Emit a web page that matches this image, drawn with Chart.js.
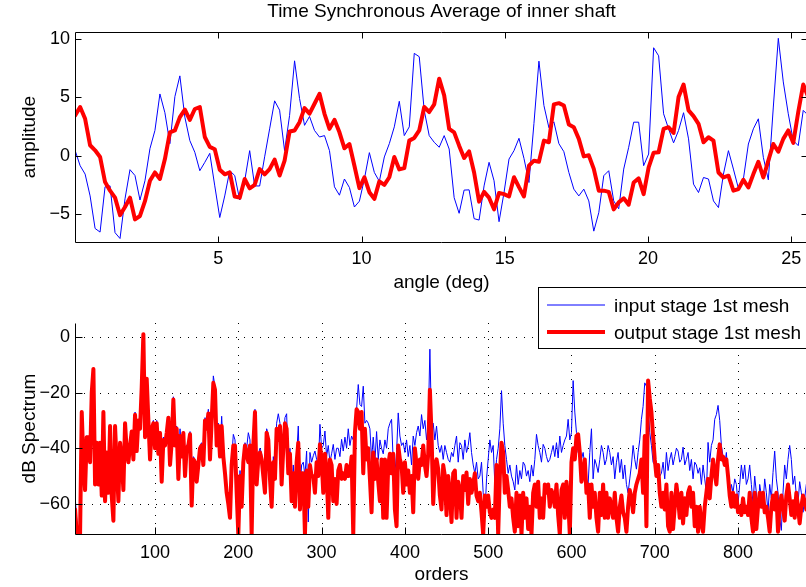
<!DOCTYPE html>
<html>
<head>
<meta charset="utf-8">
<title>Time Synchronous Average of inner shaft</title>
<script src="https://cdn.jsdelivr.net/npm/chart.js@4.4.1/dist/chart.umd.min.js"></script>
<style>
  html, body { margin: 0; padding: 0; background: #fff; overflow: hidden; }
  body { width: 806px; height: 587px; position: relative; }
  .panel { position: absolute; left: 0; }
  #tsaBox { top: 0; }
  #specBox { top: 280px; }
</style>
</head>
<body>
<div class="panel" id="tsaBox"><canvas id="tsaChart" width="830" height="300"></canvas></div>
<div class="panel" id="specBox"><canvas id="specChart" width="830" height="307"></canvas></div>
<script>
const FONT = '"Liberation Sans", Arial, Helvetica, sans-serif';
Chart.defaults.font.family = FONT;
Chart.defaults.font.size = 18;
Chart.defaults.color = '#000';

// time synchronous average, one sample every ANGLE_STEP degrees from 0
const ANGLE_STEP = 0.1741;
const tsaInput = [
  0.43, -0.86, -1.58, -3.45, -6.24, -6.55, -2.67, -2.59, -6.6, -7.1,
  -3.7, -1.2, -1.7, -3.8, -2.15, 0.6, 2.16, 5.29, 3.68, 1.03,
  5.06, 6.84, 3.3, 1.29, 0.29, -1.29, -0.57, 0.2, -2.59, -5.3,
  -3.45, -1.29, -1.7, -3.8, -2.15, 0.43, -2.59, -2.6, -0.1, 2.3,
  4.7, 3.9, 0.43, 3.45, 8.13, 4.9, 2.6, 3.36, 2.16, 1.6,
  1.72, 0.43, -2.67, -3.39, -2.0, -2.73, -4.4, -3.9, -2.0, 0.26,
  -1.44, -2.2, -0.11, 1.03, 2.47, 4.66, 1.72, 2.47, 8.77, 8.48,
  3.88, 1.72, 1.15, 0.72, 1.72, 0.57, -3.6, -4.94, -2.95, -2.93,
  -5.4, -5.52, -2.59, -0.57, -2.15, -5.66, -3.16, -0.29, 0.43, 1.49,
  -0.23, -2.3, 2.76, 8.1, 4.3, 2.4, 2.9, 1.03,
  0.34, -1.44, -2.87, -3.45, -2.87, -3.88, -6.47, -4.89, -1.72, -1.29,
  -3.88, -4.55, -1.15, 0.72, 2.87, 2.87, -0.86, 0.14, 9.25, 8.56,
  3.59, 2.3, 1.1, 2.16, 3.68, 1.44, -2.44, -3.16, -1.87, -2.0,
  -3.88, -4.45, -1.58, 0.43, -1.15, -2.8, -2.0, 1.0, 2.3, 3.16,
  -0.14, -2.07, 4.17, 10.06, 6.32, 3.59, 1.29, 0.86, 3.88, 3.45
];
const tsaOutput = [
  3.45, 4.17, 3.16, 0.89, 0.46, -0.11, -2.26, -3.0, -3.6, -5.1,
  -4.4, -3.6, -5.46, -5.17, -3.9, -2.15, -1.44, -2.0, -0.29, 2.0,
  2.16, 3.3, 3.94, 3.07, 4.0, 4.17, 1.6, 0.75, 0.55, -1.2,
  -1.6, -1.44, -3.5, -3.6, -2.0, -2.8, -2.5, -1.15, -1.6, -1.15,
  -0.34, -1.7, -0.43, 2.07, 2.16, 2.87, 4.08, 3.6, 4.45, 5.3,
  3.59, 2.3, 3.07, 2.0, 0.63, 1.0, -0.86, -2.78, -1.85, -3.13,
  -3.7, -2.2, -2.5, -1.85, -0.11, -1.18, -1.06, 1.29, 1.52, 2.16,
  4.17, 3.74, 4.4, 6.6, 5.17, 2.3, 2.0, 0.86, -0.2, 0.37,
  -1.44, -3.94, -3.1, -3.6, -4.6, -3.2, -3.3, -3.5, -1.85, -2.7,
  -3.5, -0.86, -0.43, -0.52, 1.29, 1.15, 4.4, 4.5,
  4.3, 2.67, 2.44, 1.44, -0.06, 0.03, -1.13, -3.0, -3.0, -3.1,
  -4.6, -4.0, -3.65, -4.2, -2.3, -1.95, -3.3, -1.0, 0.26, 0.29,
  2.3, 2.44, 1.95, 5.03, 6.1, 3.88, 3.39, 2.73, 1.15, 1.58,
  1.29, -1.44, -1.87, -1.72, -3.0, -2.87, -2.07, -2.73, -1.58, -0.52,
  -1.87, -0.43, 1.0, 0.34, 1.44, 2.16, 1.1, 3.74, 6.1, 5.03
];
const angleTicks = [5, 10, 15, 20, 25];
const amplitudeTicks = [-5, 0, 5, 10];

// order spectrum in dB, one value every ORDER_STEP orders starting at order 4
const ORDER_START = 4;
const ORDER_STEP = 2;
const specInput = [
  // orders 4 - 178
  -57, -66, -70, -68, -27.5, -44, -54, -35.5, -36.5, -44,
  -20, -12, -52, -38.5, -52, -37.5, -56, -27.5, -58, -41,
  -55, -32.5, -56, -64, -32.5, -45, -58, -38.5, -43, -54,
  -31.5, -40, -44, -39.5, -33.5, -43, -27, -40, -30.5, -32.5,
  -18.5, 0.5, -35, -15.5, -29.5, -43, -33, -30, -39, -30,
  -41, -34, -50, -36, -38, -34, -28.5, -45, -37, -21.5,
  -38, -32, -49, -33, -42, -34, -49, -39, -38, -34,
  -61, -43, -44, -51, -45, -39, -38, -45, -29, -32,
  -26, -43, -29, -14, -18, -38, -31, -42,
  // orders 180 - 352
  -28.5, -41, -47, -54, -58, -62, -44, -35, -37, -54,
  -66, -48, -58, -43, -38, -40, -34.4, -37, -66, -37,
  -26, -50, -42, -40, -42, -47, -53, -33, -35, -48,
  -58, -43, -48, -31, -27.6, -31, -50, -38, -29, -27.6,
  -46, -40, -55, -46, -57, -43, -32, -55, -46, -45,
  -50, -41, -66.5, -41.5, -45, -42.7, -41, -44, -47, -31.4,
  -40, -39, -33.8, -43, -39, -45, -42, -38.6, -44, -40,
  -40, -43, -36.8, -41, -36, -40, -33, -39, -35.6, -37,
  -33.8, -26, -17.1, -24.3, -25, -17.7, -31,
  // orders 354 - 530
  -30, -31, -33, -44, -36, -45, -34, -44, -37, -40,
  -42, -37, -40, -33, -31, -29.6, -45, -49, -41.5, -27.3,
  -35.6, -39, -38, -41.5, -37, -43, -39, -46, -35.6, -39,
  -34.4, -32, -35.6, -27.9, -33, -30, -37, -32, -4.4, -32,
  -31, -37, -32, -39, -41.5, -39, -44, -39, -41.5, -44,
  -45, -41.5, -43, -39, -35.6, -45, -38, -39, -44, -37,
  -41.5, -39, -34.4, -41.5, -46, -49, -45, -51, -50, -45,
  -56, -65, -51, -44, -37, -41.5, -39, -53, -44, -40,
  -33, -19.3, -31, -39, -44, -49, -46, -50, -52,
  // orders 532 - 706
  -55, -46, -53, -48, -51, -45, -46, -50, -48, -52,
  -46, -50, -44, -35, -39, -41.5, -45, -38.6, -40, -43,
  -45, -44, -41.5, -39, -43, -38, -43.5, -35.6, -41.5, -39,
  -37, -35.6, -29.6, -37, -34.4, -15.7, -27, -34.4, -41.5, -39,
  -44, -41.5, -46, -51, -53, -41.5, -33, -51, -44, -46,
  -48.7, -44, -39, -41.5, -46, -44, -39, -41.5, -46, -43,
  -51, -45, -41.5, -48.7, -44, -51, -46, -53, -56, -51,
  -46, -39, -44, -47.5, -41.5, -37, -29.6, -25, -16.5, -17.7,
  -25, -34.4, -39, -45, -46, -48.7, -47, -50,
  // orders 708 - 884
  -49, -45, -51, -41.5, -48, -44, -41.5, -46, -43, -40,
  -41, -45, -44, -39.6, -46, -44, -41.5, -48, -44, -51,
  -45, -46, -49, -47, -53, -46, -51, -56, -37.9, -45,
  -39, -37, -29.6, -27.9, -24.6, -30, -39, -43, -46, -41.5,
  -51, -58, -53, -56, -51, -53, -60, -53, -46, -51,
  -46, -53, -51, -46, -53, -60, -50, -56, -65, -53,
  -57, -60, -51, -56, -63, -53, -58, -48.7, -41, -51,
  -56, -65, -69.5, -56, -46, -51, -44, -39, -44, -53,
  -50, -57, -60, -52, -56, -63, -58, -53, -50
];
const specOutput = [
  // orders 4 - 178
  -62, -71, -71, -71, -27, -45, -55, -36, -36, -45,
  -20, -11.5, -53, -38, -53, -38, -57, -27, -59, -41.5,
  -56, -32, -57, -66, -32, -46, -59, -38, -44, -55,
  -31, -41, -45, -39, -34, -44, -28, -41, -30, -33,
  -18, 1, -36, -15, -30, -44, -33, -31, -40, -31,
  -42, -34.5, -52, -37, -39, -34.5, -29, -46, -38, -22.5,
  -39, -33, -51, -35.6, -43, -34.5, -50, -40, -39, -35,
  -60.6, -44, -45, -52, -46, -40, -39, -46, -30, -33,
  -27.5, -44, -30, -16.5, -19, -39, -32, -43,
  // orders 180 - 352
  -32, -43, -49, -56, -60, -65, -46, -39, -39, -56,
  -71, -50, -61, -45, -39, -42, -45, -39, -71, -39,
  -27, -53, -44, -41.5, -44, -50, -56, -34.4, -37, -51,
  -61, -45, -51, -33, -37, -32, -53, -40, -31, -33,
  -49, -42, -59, -49, -61, -45, -38, -62, -49, -49,
  -71, -48, -61, -46, -50, -50, -56, -45, -50, -38.6,
  -44, -56, -42, -48, -65, -44, -46, -59, -51, -60,
  -48, -46, -51, -49, -51, -46, -50, -49, -43, -71,
  -34.4, -26, -27, -33, -27, -49, -33,
  // orders 354 - 530
  -44, -40, -51, -63, -41.5, -51, -44, -52, -59, -44,
  -65, -44, -65, -46, -42, -49, -42, -62, -68, -39,
  -44, -46, -56, -45, -53, -48, -56, -50, -63, -40,
  -46, -51, -44, -46, -39, -46, -50, -42, -19, -35,
  -60, -46, -44, -47.5, -57, -62, -46, -50, -64, -50,
  -56, -66.5, -49, -48, -65, -52, -55, -65, -50, -55,
  -48.7, -60, -51, -56, -53, -49, -57, -59, -56, -63,
  -71, -57, -61, -57, -63, -65, -62, -65, -46, -71,
  -50, -38, -41.5, -56, -50, -55, -61, -58, -65,
  // orders 532 - 706
  -70, -56, -68, -57, -71, -56, -65, -58, -69, -61,
  -71, -56, -53, -61, -52, -65, -58, -65, -53, -56,
  -53, -61, -55, -57, -61, -53, -64, -71, -55, -53,
  -65, -52, -58, -71, -45, -40, -44, -35.6, -35, -41.5,
  -52, -49, -44, -56, -53, -65, -53, -61, -56, -65,
  -70, -56, -64, -53, -65, -56, -65, -58, -61, -65,
  -56, -65, -70, -61, -57, -63, -65, -70, -61, -55,
  -58, -63, -56, -53, -51, -49, -44, -56, -35.6, -68,
  -15.7, -22, -27, -35.6, -44, -50, -46, -56,
  // orders 708 - 884
  -61, -56, -62, -53, -68, -70, -56, -69, -61, -53,
  -58, -65, -56, -67, -58, -64, -56, -54, -61, -56,
  -68, -61, -70, -61, -67, -70, -61, -56, -51, -58,
  -50, -44, -49, -53, -44, -38.6, -44, -43, -46, -44,
  -50, -57, -61, -56, -61, -57, -63, -61, -64, -58,
  -63, -61, -64, -56, -65, -70, -56, -69, -61, -56,
  -61, -56, -63, -61, -65, -70, -61, -57, -62, -56,
  -70, -61, -57, -61, -66, -57, -53, -58, -64, -59,
  -65, -56, -61, -67, -61, -57, -59, -62, -58
];
const orderTicks = [100, 200, 300, 400, 500, 600, 700, 800];
const dbTicks = [-60, -40, -20, 0];

const seriesNames = ['input stage 1st mesh', 'output stage 1st mesh'];
const BLUE = '#0000ff';
const RED = '#ff0000';

function toPoints(values, start, step) {
  return values.map((v, i) => ({ x: start + i * step, y: v }));
}

function fmtTick(v) {
  return v < 0 ? '\u2212' + Math.abs(v) : String(v);
}

function fixedTicks(list) {
  return scale => { scale.ticks = list.map(v => ({ value: v })); };
}

function drawRotated(ctx, text, x, y) {
  ctx.save();
  ctx.translate(x, y);
  ctx.rotate(-Math.PI / 2);
  ctx.textAlign = 'center';
  ctx.textBaseline = 'alphabetic';
  ctx.fillText(text, 0, 0);
  ctx.restore();
}

// matlab-like frame: dotted grid, axis lines, inward ticks, labels, legend
const axesFrame = {
  id: 'axesFrame',
  beforeDatasetsDraw(chart, args, o) {
    if (!o.grid) return;
    const { ctx, chartArea: a, scales: { x, y } } = chart;
    ctx.save();
    ctx.strokeStyle = '#000';
    ctx.lineWidth = 1;
    ctx.setLineDash([1, 7]);
    ctx.beginPath();
    for (const t of x.ticks) {
      const px = Math.round(x.getPixelForValue(t.value)) + 0.5;
      ctx.moveTo(px, a.top); ctx.lineTo(px, a.bottom);
    }
    for (const t of y.ticks) {
      const py = Math.round(y.getPixelForValue(t.value)) + 0.5;
      ctx.moveTo(a.left, py); ctx.lineTo(a.right, py);
    }
    ctx.stroke();
    ctx.restore();
  },
  afterDraw(chart, args, o) {
    const { ctx, chartArea: a, scales: { x, y } } = chart;
    const L = a.left - 0.5, B = a.bottom + 0.5, T = a.top + 0.5, R = a.right + 0.5;
    const tl = o.tickLength;
    ctx.save();
    ctx.strokeStyle = '#000';
    ctx.lineWidth = 1;
    ctx.beginPath();
    ctx.moveTo(L, T); ctx.lineTo(L, B); ctx.lineTo(R, B);
    if (o.box) { ctx.lineTo(R, T); ctx.lineTo(L, T); }
    for (const t of x.ticks) {
      const px = Math.round(x.getPixelForValue(t.value)) + 0.5;
      ctx.moveTo(px, B); ctx.lineTo(px, B - tl);
      if (o.box) { ctx.moveTo(px, T); ctx.lineTo(px, T + tl); }
    }
    for (const t of y.ticks) {
      const py = Math.round(y.getPixelForValue(t.value)) + 0.5;
      ctx.moveTo(L, py); ctx.lineTo(L + tl, py);
      if (o.box) { ctx.moveTo(R, py); ctx.lineTo(R - tl, py); }
    }
    ctx.stroke();

    const midX = (a.left + a.right) / 2;
    const midY = (a.top + a.bottom) / 2;
    ctx.fillStyle = '#000';
    ctx.font = '19px ' + FONT;
    ctx.textAlign = 'center';
    ctx.textBaseline = 'alphabetic';
    if (o.title) ctx.fillText(o.title, midX, o.titleBaseline);
    ctx.fillText(o.xLabel, midX, o.xLabelBaseline);
    drawRotated(ctx, o.yLabel, o.yLabelBaseline, midY);

    if (o.legend) {
      const lg = o.legend;
      ctx.fillStyle = '#fff';
      ctx.fillRect(lg.left, lg.top, 320, lg.height);
      ctx.strokeRect(lg.left + 0.5, lg.top + 0.5, 320, lg.height);
      chart.data.datasets.forEach((ds, i) => {
        const rowY = lg.rows[i];
        ctx.strokeStyle = ds.borderColor;
        ctx.lineWidth = ds.borderWidth;
        ctx.beginPath();
        ctx.moveTo(lg.left + 9, rowY);
        ctx.lineTo(lg.left + 67, rowY);
        ctx.stroke();
        ctx.fillStyle = '#000';
        ctx.textAlign = 'left';
        ctx.fillText(ds.label, lg.left + 76, rowY + 7);
      });
    }
    ctx.restore();
  }
};

function lineSet(label, points, color, width, order) {
  return {
    label, data: points, borderColor: color, borderWidth: width,
    pointRadius: 0, tension: 0, fill: false, order,
    borderJoinStyle: 'round', borderCapStyle: 'round', clip: 0
  };
}

function baseOptions(cfg) {
  return {
    responsive: false,
    animation: false,
    events: [],
    layout: { padding: { left: 0, top: cfg.padTop, right: 23, bottom: 0 } },
    plugins: { legend: { display: false }, tooltip: { enabled: false }, axesFrame: cfg.frame },
    scales: {
      x: {
        type: 'linear', min: cfg.xMin, max: cfg.xMax,
        grid: { display: false, drawTicks: false }, border: { display: false },
        afterBuildTicks: fixedTicks(cfg.xTicks),
        afterFit: s => { s.height = cfg.xAxisHeight; },
        ticks: { padding: cfg.xPad, autoSkip: false, maxRotation: 0, callback: fmtTick }
      },
      y: {
        type: 'linear', min: cfg.yMin, max: cfg.yMax,
        grid: { display: false, drawTicks: false }, border: { display: false },
        afterBuildTicks: fixedTicks(cfg.yTicks),
        afterFit: s => { s.width = 76; },
        ticks: { padding: 6, autoSkip: false, callback: fmtTick }
      }
    }
  };
}

new Chart(document.getElementById('tsaChart'), {
  type: 'line',
  data: {
    datasets: [
      lineSet(seriesNames[0], toPoints(tsaInput, 0, ANGLE_STEP), BLUE, 1, 1),
      lineSet(seriesNames[1], toPoints(tsaOutput, 0, ANGLE_STEP), RED, 4, 0)
    ]
  },
  options: baseOptions({
    padTop: 32, xAxisHeight: 58, xPad: 6,
    xMin: 0.03, xMax: 25.55, xTicks: angleTicks,
    yMin: -7.4, yMax: 10.6, yTicks: amplitudeTicks,
    frame: {
      box: true, grid: false, tickLength: 6,
      title: 'Time Synchronous Average of inner shaft', titleBaseline: 17,
      xLabel: 'angle (deg)', xLabelBaseline: 288,
      yLabel: 'amplitude', yLabelBaseline: 35
    }
  }),
  plugins: [axesFrame]
});

new Chart(document.getElementById('specChart'), {
  type: 'line',
  data: {
    datasets: [
      lineSet(seriesNames[0], toPoints(specInput, ORDER_START, ORDER_STEP), BLUE, 1, 1),
      lineSet(seriesNames[1], toPoints(specOutput, ORDER_START, ORDER_STEP), RED, 4, 0)
    ]
  },
  options: baseOptions({
    padTop: 43, xAxisHeight: 53, xPad: 8,
    xMin: 5.1, xMax: 882.8, xTicks: orderTicks,
    yMin: -70.8, yMax: 5, yTicks: dbTicks,
    frame: {
      box: false, grid: true, tickLength: 7,
      xLabel: 'orders', xLabelBaseline: 300,
      yLabel: 'dB Spectrum', yLabelBaseline: 35,
      legend: { left: 538, top: 7, height: 61, rows: [25, 52] }
    }
  }),
  plugins: [axesFrame]
});
</script>
</body>
</html>
